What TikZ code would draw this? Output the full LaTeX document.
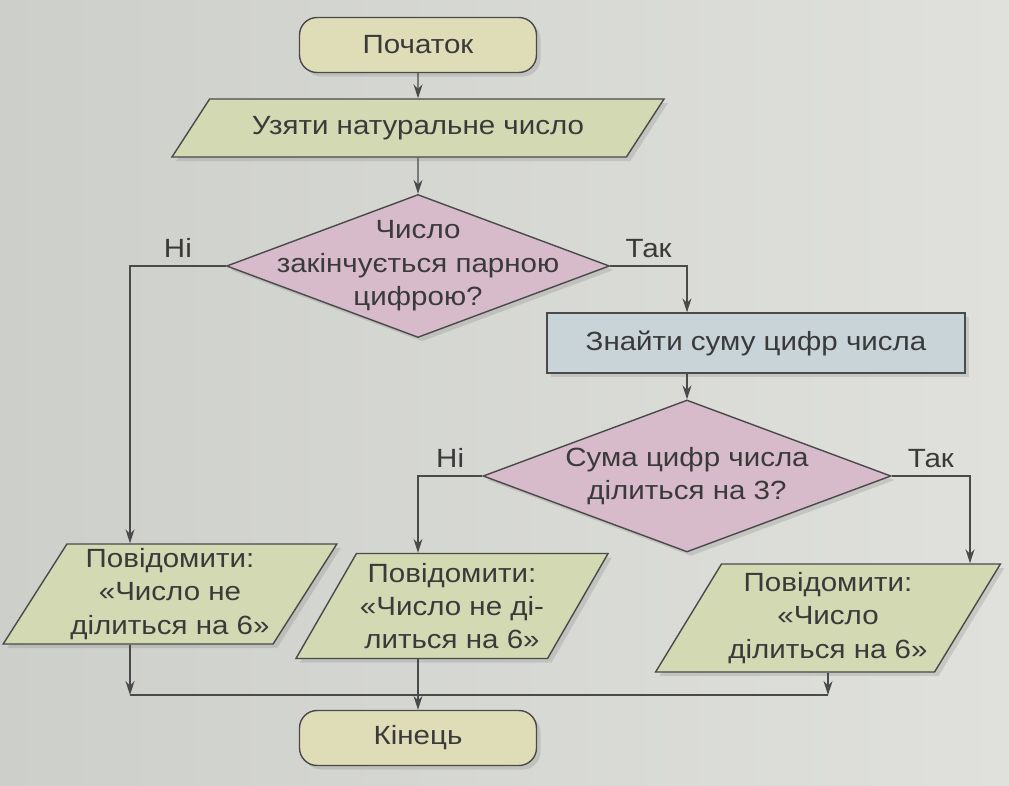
\documentclass[tikz,border=0pt]{standalone}
\usepackage{fontspec}
\setmainfont{Liberation Sans}[FakeStretch=1.12]
\usepackage{tikz}
\usetikzlibrary{shapes.geometric, arrows.meta, positioning, calc, shadows}
\definecolor{Paper}{HTML}{CDCFCA}
\definecolor{PaperLight}{HTML}{E0E1DD}
\definecolor{Sand}{HTML}{DEDDB8}
\definecolor{Sage}{HTML}{D3D9B3}
\definecolor{Orchid}{HTML}{D8BBCB}
\definecolor{Steel}{HTML}{C9D4D8}
\definecolor{Ink}{HTML}{3A3A3A}
\definecolor{Wire}{HTML}{4A4A4A}

\begin{document}
\begin{tikzpicture}[
    every node/.style={text=Ink, font=\fontsize{15}{19}\selectfont},
    framed/.style={draw=Wire, line width=0.8pt,
          drop shadow={opacity=0.25, shadow xshift=0.08cm, shadow yshift=-0.08cm}},
    terminal/.style={framed, rectangle, rounded corners=10pt, fill=Sand,
          minimum width=4.74cm, minimum height=1.1cm},
    io/.style={framed, trapezium, trapezium left angle=57, trapezium right angle=123,
          trapezium stretches=true, fill=Sage, align=center, inner sep=2pt},
    process/.style={framed, rectangle, fill=Steel,
          minimum width=8.36cm, minimum height=1.2cm},
    decision/.style={framed, diamond, fill=Orchid, inner sep=0pt},
    flow/.style={draw=Wire, line width=0.7pt},
    arr/.style={flow, -{Stealth[length=2.8mm,width=1.8mm]}},
    answer/.style={above=1pt, pos=0.25}
]
    % Paper
    \shade[left color=Paper, right color=PaperLight] (0,0) rectangle (20.18,-15.7);
    \useasboundingbox (0,0) rectangle (20.18,-15.7);

    % Columns of the side branches
    \coordinate (colL) at (2.6,0);
    \coordinate (colR) at (19.4,0);

    % Main column
    \node[terminal] (start) at (8.36,-0.9) {Початок};
    \node[io, trapezium left angle=45, trapezium right angle=135,
          minimum width=9.86cm, minimum height=1.16cm] (input) at (8.36,-2.56)
          {Узяти натуральне число};
    \node[decision, minimum width=7.66cm, minimum height=2.86cm,
          label={[align=center]center:{Число\\закінчується парною\\цифрою?}}]
          (isEven) at (8.36,-5.32) {};
    \node[process] (sumDigits) at (15.12,-6.86) {Знайти суму цифр числа};
    \node[decision, minimum width=8.16cm, minimum height=3.04cm,
          label={[align=center]center:{Сума цифр числа\\ділиться на 3?}}]
          (divBy3) at (13.74,-9.52) {};

    % Outputs
    \node[io, minimum width=6.2cm, minimum height=2cm] (outL) at (3.4,-11.88)
          {Повідомити:\\«Число не\\ділиться на 6»};
    \node[io, minimum width=6.06cm, minimum height=2.1cm] (outM) at (9.04,-12.12)
          {Повідомити:\\«Число не ді-\\литься на 6»};
    \node[io, minimum width=6.9cm, minimum height=2.16cm] (outR) at (16.56,-12.36)
          {Повідомити:\\«Число\\ділиться на 6»};

    \node[terminal] (finish) at (8.36,-14.76) {Кінець};

    % Joining line
    \coordinate (joinL) at (colL |- 0,-13.9);
    \coordinate (joinR) at (outR.south |- joinL);

    % Arrows
    \draw[arr] (start) -- (input);
    \draw[arr] (input) -- (isEven);
    \draw[arr] (isEven.east) -| node[answer] {Так} (sumDigits.north -| divBy3.north);
    \draw[arr] (isEven.west) -| node[answer] {Ні} (colL |- outL.north);
    \draw[arr] (sumDigits.south -| divBy3.north) -- (divBy3.north);
    \draw[arr] (divBy3.west) -| node[answer] {Ні} (outM.north -| start.south);
    \draw[arr] (divBy3.east) -| node[answer] {Так} (colR |- outR.north);

    \draw[arr] (colL |- outL.south) -- (joinL);
    \draw[flow] (joinL) -- (joinR);
    \draw[arr] (outR.south) -- (joinR);
    \draw[arr] (outM.south -| finish.north) -- (finish.north);
\end{tikzpicture}
\end{document}
